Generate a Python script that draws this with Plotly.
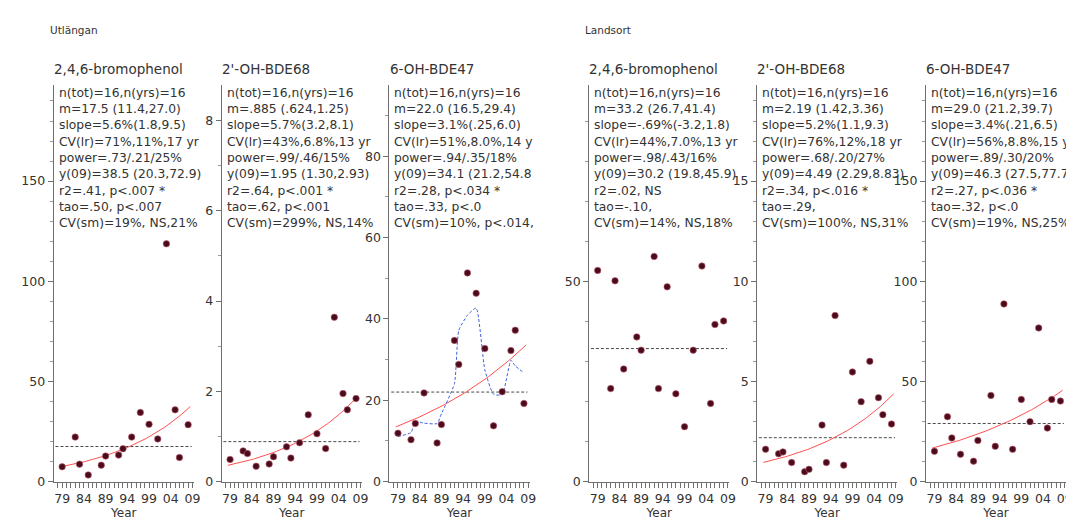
import numpy as np
import plotly.graph_objects as go

# ---------------- data ----------------
years = [1979, 1982, 1983, 1985, 1988, 1989, 1992, 1993, 1995, 1997, 1999, 2001, 2003, 2005, 2006, 2008]

utl_bromophenol = [7.4, 22.2, 8.7, 3.3, 8.2, 12.7, 13.2, 16.4, 22.2, 34.5, 28.6, 21.3, 118.7, 35.8, 12.0, 28.4]
utl_bde68 = [0.49, 0.68, 0.62, 0.34, 0.39, 0.55, 0.77, 0.52, 0.86, 1.48, 1.06, 0.73, 3.64, 1.95, 1.59, 1.84]
utl_bde47 = [11.9, 10.3, 14.3, 21.8, 9.5, 14.0, 34.7, 28.8, 51.3, 46.3, 32.7, 13.7, 22.1, 32.2, 37.2, 19.2]
lan_bromophenol = [52.7, 23.2, 50.1, 28.1, 36.1, 32.8, 56.2, 23.2, 48.6, 21.9, 13.7, 32.8, 53.8, 19.5, 39.2, 40.1]
lan_bde68 = [1.61, 1.39, 1.48, 0.95, 0.49, 0.61, 2.82, 0.95, 8.29, 0.82, 5.47, 3.99, 6.00, 4.19, 3.34, 2.87]
lan_bde47 = [15.1, 32.4, 21.8, 13.6, 10.2, 20.5, 43.0, 17.6, 88.7, 16.1, 41.0, 29.9, 76.7, 26.7, 41.0, 40.2]

series = [utl_bromophenol, utl_bde68, utl_bde47, lan_bromophenol, lan_bde68, lan_bde47]
compounds = ["2,4,6-bromophenol", "2'-OH-BDE68", "6-OH-BDE47",
             "2,4,6-bromophenol", "2'-OH-BDE68", "6-OH-BDE47"]
stations = ["Utlängan", "Landsort"]

# statistics printed in each panel
geo_mean = [17.5, 0.885, 22.0, 33.2, 2.19, 29.0]
slope_pct = [5.6, 5.7, 3.1, -0.69, 5.2, 3.4]
y09 = [38.5, 1.95, 34.1, 30.2, 4.49, 46.3]
trend_significant = [True, True, True, False, True, True]
smoother_significant = [False, False, True, False, False, False]

stat_texts = [
    ["n(tot)=16,n(yrs)=16", "m=17.5 (11.4,27.0)", "slope=5.6%(1.8,9.5)", "CV(lr)=71%,11%,17 yr",
     "power=.73/.21/25%", "y(09)=38.5 (20.3,72.9)", "r2=.41, p<.007 *", "tao=.50, p<.007", "CV(sm)=19%, NS,21%"],
    ["n(tot)=16,n(yrs)=16", "m=.885 (.624,1.25)", "slope=5.7%(3.2,8.1)", "CV(lr)=43%,6.8%,13 yr",
     "power=.99/.46/15%", "y(09)=1.95 (1.30,2.93)", "r2=.64, p<.001 *", "tao=.62, p<.001", "CV(sm)=299%, NS,14%"],
    ["n(tot)=16,n(yrs)=16", "m=22.0 (16.5,29.4)", "slope=3.1%(.25,6.0)", "CV(lr)=51%,8.0%,14 y",
     "power=.94/.35/18%", "y(09)=34.1 (21.2,54.8", "r2=.28, p<.034 *", "tao=.33, p<.0", "CV(sm)=10%, p<.014,"],
    ["n(tot)=16,n(yrs)=16", "m=33.2 (26.7,41.4)", "slope=-.69%(-3.2,1.8)", "CV(lr)=44%,7.0%,13 yr",
     "power=.98/.43/16%", "y(09)=30.2 (19.8,45.9)", "r2=.02, NS", "tao=-.10,", "CV(sm)=14%, NS,18%"],
    ["n(tot)=16,n(yrs)=16", "m=2.19 (1.42,3.36)", "slope=5.2%(1.1,9.3)", "CV(lr)=76%,12%,18 yr",
     "power=.68/.20/27%", "y(09)=4.49 (2.29,8.83)", "r2=.34, p<.016 *", "tao=.29,", "CV(sm)=100%, NS,31%"],
    ["n(tot)=16,n(yrs)=16", "m=29.0 (21.2,39.7)", "slope=3.4%(.21,6.5)", "CV(lr)=56%,8.8%,15 yr",
     "power=.89/.30/20%", "y(09)=46.3 (27.5,77.7)", "r2=.27, p<.036 *", "tao=.32, p<.0", "CV(sm)=19%, NS,25%"],
]

x_tick_years = [1979, 1984, 1989, 1994, 1999, 2004, 2009]
x_tick_labels = ["79", "84", "89", "94", "99", "04", "09"]

# axis scaling per panel
y_max = [198, 8.79, 97.5, 99, 19.8, 198]
y_dtick = [50, 2, 20, 50, 5, 50]
y_minor = [10, 1, 10, 10, 1, 10]

# ---------------- layout geometry ----------------
W, H = 1074, 522
x_left = [46, 215, 384, 585, 754, 924]
pw = 141
y_top, y_bot = 78, 480
x_range = [1977.05, 2009.3]
FONT = "DejaVu Sans"
TXT = "#333333"
AX = "#6f6f6f"

fig = go.Figure()
annotations = []

for i in range(6):
    n = i + 1
    sfx = "" if n == 1 else str(n)
    xa, ya = "x" + sfx, "y" + sfx
    vals = np.array(series[i], dtype=float)
    yrs = np.array(years, dtype=float)

    # geometric mean (dashed)
    fig.add_trace(go.Scatter(x=[x_range[0] + 0.4, 2008.8], y=[geo_mean[i]] * 2, mode="lines",
                             line=dict(color="#4a4a4a", width=1, dash="3px,2px"),
                             xaxis=xa, yaxis=ya, showlegend=False, hoverinfo="skip"))
    # log-linear trend
    if trend_significant[i]:
        tx = np.linspace(yrs[0] - 0.5, yrs[-1] + 0.5, 60)
        ty = y09[i] * (1 + slope_pct[i] / 100.0) ** (tx - 2009)
        fig.add_trace(go.Scatter(x=tx, y=ty, mode="lines", line=dict(color="#ff5050", width=1),
                                 xaxis=xa, yaxis=ya, showlegend=False, hoverinfo="skip"))
    # 3-point running geometric mean smoother
    if smoother_significant[i]:
        lv = np.log(vals)
        sm = [np.exp(lv[max(0, k - 1):k + 2].mean()) for k in range(len(lv))]
        fig.add_trace(go.Scatter(x=yrs, y=sm, mode="lines",
                                 line=dict(color="#3f5fe0", width=1, dash="3px,2px", shape="spline", smoothing=0.5),
                                 xaxis=xa, yaxis=ya, showlegend=False, hoverinfo="skip"))
    # observations
    fig.add_trace(go.Scatter(x=yrs, y=vals, mode="markers",
                             marker=dict(color="#4a0c1c", size=6.5, line=dict(color="#c06070", width=0.6)),
                             xaxis=xa, yaxis=ya, showlegend=False, cliponaxis=False))

    fig.update_layout({
        "xaxis" + sfx: dict(domain=[x_left[i] / W, (x_left[i] + pw) / W], range=x_range, anchor=ya,
                            tickmode="array", tickvals=x_tick_years, ticktext=x_tick_labels,
                            ticks="outside", ticklen=5, tickcolor=AX, tickwidth=1,
                            minor=dict(dtick=1, tick0=0, ticks="outside", ticklen=5, tickcolor=AX, tickwidth=1),
                            showline=True, linecolor=AX, linewidth=1, showgrid=False, zeroline=False,
                            tickfont=dict(family=FONT, size=12.5, color=TXT),
                            title=dict(text="Year", font=dict(family=FONT, size=12, color=TXT), standoff=1)),
        "yaxis" + sfx: dict(domain=[(H - y_bot) / H, (H - y_top) / H], range=[0, y_max[i]], anchor=xa,
                            tick0=0, dtick=y_dtick[i], ticks="outside", ticklen=5, tickcolor=AX,
                            minor=dict(dtick=y_minor[i], ticks="outside", ticklen=3, tickcolor="#999999"),
                            showline=True, linecolor=AX, linewidth=1, showgrid=False, zeroline=False,
                            tickfont=dict(family=FONT, size=12.5, color=TXT)),
    })

    # compound title
    annotations.append(dict(text=compounds[i], x=(x_left[i] - 2) / W, y=(H - 62) / H, xref="paper", yref="paper",
                            xanchor="left", yanchor="middle", showarrow=False,
                            font=dict(family=FONT, size=13.5, color=TXT)))
    # statistics block
    for r, line in enumerate(stat_texts[i]):
        yc = 86 + r * 16.5
        annotations.append(dict(text=line, x=(x_left[i] + 3) / W, y=(H - yc) / H, xref="paper", yref="paper",
                                xanchor="left", yanchor="middle", showarrow=False,
                                font=dict(family=FONT, size=12.3, color=TXT)))

for g, st in enumerate(stations):
    annotations.append(dict(text=st, x=(x_left[g * 3] - 6) / W, y=(H - 22) / H, xref="paper", yref="paper",
                            xanchor="left", yanchor="middle", showarrow=False,
                            font=dict(family=FONT, size=10.5, color=TXT)))

fig.update_layout(width=W, height=H, margin=dict(l=0, r=0, t=0, b=0),
                  paper_bgcolor="white", plot_bgcolor="white", annotations=annotations)

fig.write_html("out.html")
